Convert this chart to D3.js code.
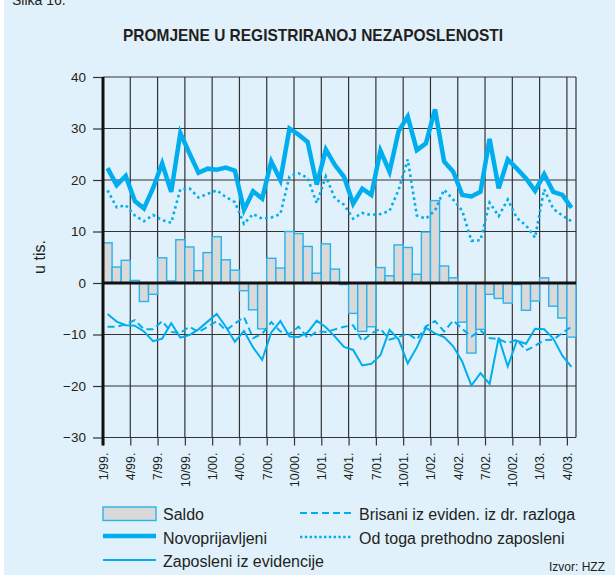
<!DOCTYPE html>
<html>
<head>
<meta charset="utf-8">
<title>Promjene u registriranoj nezaposlenosti</title>
<script src="https://cdn.jsdelivr.net/npm/d3@7"></script>
<style>
    body { margin: 0; background: #fff; }
    text { font-family: Arial, "Liberation Sans", Helvetica, sans-serif; fill: #231f20; }
</style>
</head>
<body>
<div id="chart"></div>

<script type="text/javascript">
// monthly data, 1/1999 - 4/2003, thousands
var months = [];
["99", "00", "01", "02", "03"].forEach(function (yy) {
    for (var m = 1; m <= 12; m++) months.push(m + "/" + yy + ".");
});
months = months.slice(0, 52);

var tickLabels = ["1/99.", "4/99.", "7/99.", "10/99.", "1/00.", "4/00.", "7/00.", "10/00.", "1/01.",
                  "4/01.", "7/01.", "10/01.", "1/02.", "4/02.", "7/02.", "10/02.", "1/03.", "4/03."];
var yTicks = [-30, -20, -10, 0, 10, 20, 30, 40];

var saldo = [7.8, 3.1, 4.4, 0.5, -3.6, -2.2, 4.9, 0.4, 8.4, 7.0, 2.4, 5.9,
             9.0, 4.5, 2.5, -1.5, -5.2, -8.9, 4.8, 2.9, 10.0, 9.6, 7.1, 1.9,
             7.6, 2.7, -0.3, -5.9, -9.4, -8.5, 3.0, 1.4, 7.4, 6.9, 1.7, 9.9,
             16.0, 3.3, 1.0, -7.6, -13.6, -9.0, -2.2, -3.0, -3.9, -0.3, -5.3, -3.5,
             1.0, -4.5, -6.8, -10.5];

var novoprijavljeni = [22.3, 19.0, 20.8, 15.9, 14.5, 18.4, 23.2, 17.7, 29.1, 25.2, 21.4, 22.2,
                       22.0, 22.4, 21.8, 14.2, 17.8, 16.4, 23.6, 20.0, 30.0, 28.8, 27.4, 19.1,
                       25.9, 22.9, 20.6, 15.4, 18.3, 17.1, 25.7, 21.6, 29.5, 32.3, 25.8, 27.1,
                       33.7, 23.6, 21.6, 17.1, 16.8, 17.7, 28.0, 18.4, 24.0, 22.2, 20.3, 17.9,
                       21.1, 17.7, 17.1, 14.6];

var prethodnoZaposleni = [18.0, 14.7, 15.1, 13.1, 12.0, 13.2, 12.2, 11.7, 18.2, 18.4, 16.6, 17.3,
                          18.0, 16.7, 15.7, 11.5, 13.4, 12.5, 12.7, 13.4, 20.7, 21.3, 20.4, 15.5,
                          20.7, 16.4, 15.2, 12.5, 13.6, 13.2, 13.4, 14.0, 18.1, 24.0, 13.1, 12.5,
                          14.1, 18.1, 16.2, 14.0, 8.2, 8.3, 15.6, 13.0, 16.2, 12.6, 11.2, 8.8,
                          18.2, 14.4, 13.1, 12.0];

var zaposleni = [-6.0, -7.5, -8.2, -8.3, -9.4, -11.3, -10.8, -7.8, -10.6, -10.1, -9.0, -7.5,
                 -6.0, -8.5, -11.4, -9.3, -12.5, -14.9, -9.6, -7.4, -10.4, -10.5, -9.6, -7.3,
                 -8.6, -10.4, -12.4, -13.0, -16.0, -15.7, -14.0, -9.1, -11.0, -15.6, -12.5, -8.7,
                 -9.8, -10.5, -12.3, -15.3, -19.9, -17.5, -19.6, -10.6, -16.2, -11.2, -11.8, -8.9,
                 -9.0, -10.8, -14.1, -16.3];

var brisani = [-8.5, -8.5, -8.0, -7.2, -9.0, -9.0, -7.4, -9.5, -9.7, -8.5, -9.5, -8.5,
               -7.4, -9.2, -7.9, -6.6, -10.7, -9.9, -7.6, -9.4, -9.9, -8.5, -10.7, -9.4,
               -9.5, -9.0, -8.5, -8.2, -11.3, -9.8, -8.9, -11.0, -10.5, -9.8, -11.0, -8.4,
               -7.4, -9.4, -7.3, -8.9, -10.4, -9.2, -10.7, -10.9, -11.7, -11.0, -13.1, -12.2,
               -11.1, -11.0, -9.7, -8.5];

(function () {
    var blue = "#00aeef", barFill = "#d9d9d9", barStroke = "#2ab2ea", bg = "#e0f1fb", ink = "#231f20";

    var width = 615, height = 575;
    var pLeft = 103, pRight = 576, pTop = 77, pBottom = 437.5;

    var svg = d3.select("#chart").append("svg")
        .attr("width", width)
        .attr("height", height);

    svg.append("rect").attr("x", 0).attr("y", 0).attr("width", width).attr("height", height).attr("fill", "#fff");
    svg.append("rect").attr("x", 4).attr("y", 0).attr("width", width - 4).attr("height", height).attr("fill", bg);

    svg.append("text").attr("x", 12).attr("y", 5).style("font-size", "14px").text("Slika 16.");

    svg.append("text")
        .attr("x", 313).attr("y", 41)
        .attr("text-anchor", "middle")
        .attr("textLength", 380).attr("lengthAdjust", "spacingAndGlyphs")
        .style("font-family", "'Liberation Sans Narrow', 'Arial Narrow', Arial, sans-serif")
        .style("font-weight", "bold").style("font-size", "17px")
        .text("PROMJENE U REGISTRIRANOJ NEZAPOSLENOSTI");

    var x = d3.scaleLinear().domain([0, 52]).range([pLeft, pRight]);
    var y = d3.scaleLinear().domain([-30, 40]).range([pBottom, pTop]);
    var mid = function (d, i) { return x(i + 0.5); };

    // grid
    var grid = svg.append("g").attr("stroke", "#333").attr("stroke-width", 1.2);
    grid.selectAll("line.h").data(yTicks).enter().append("line")
        .attr("x1", pLeft).attr("x2", pRight)
        .attr("y1", function (d) { return y(d); }).attr("y2", function (d) { return y(d); });
    grid.selectAll("line.v").data(d3.range(3, 52, 3).concat([52])).enter().append("line")
        .attr("x1", function (d) { return x(d); }).attr("x2", function (d) { return x(d); })
        .attr("y1", pTop).attr("y2", pBottom);

    // saldo bars
    svg.append("g").selectAll("rect").data(saldo).enter().append("rect")
        .attr("x", function (d, i) { return x(i); })
        .attr("width", function (d, i) { return x(i + 1) - x(i); })
        .attr("y", function (d) { return y(Math.max(0, d)); })
        .attr("height", function (d) { return Math.abs(y(d) - y(0)); })
        .attr("fill", barFill).attr("stroke", barStroke).attr("stroke-width", 1.4);

    svg.append("line").attr("x1", pLeft).attr("x2", pRight).attr("y1", y(0)).attr("y2", y(0))
        .attr("stroke", "#111").attr("stroke-width", 3);

    var line = d3.line().x(mid).y(function (d) { return y(d); });

    svg.append("path").datum(brisani).attr("d", line).attr("fill", "none")
        .attr("stroke", blue).attr("stroke-width", 2).attr("stroke-dasharray", "7,4");
    svg.append("path").datum(zaposleni).attr("d", line).attr("fill", "none")
        .attr("stroke", blue).attr("stroke-width", 2);
    svg.append("path").datum(prethodnoZaposleni).attr("d", line).attr("fill", "none")
        .attr("stroke", blue).attr("stroke-width", 2.6).attr("stroke-dasharray", "2.6,3.2");
    svg.append("path").datum(novoprijavljeni).attr("d", line).attr("fill", "none")
        .attr("stroke", blue).attr("stroke-width", 4.5);

    // axes
    var yAxis = svg.append("g").attr("transform", "translate(" + pLeft + ",0)")
        .call(d3.axisLeft(y).tickValues(yTicks).tickSize(10).tickPadding(7)
            .tickFormat(function (d) { return d < 0 ? "\u2212" + Math.abs(d) : d; }));
    yAxis.select(".domain").remove();
    yAxis.selectAll("line").attr("stroke", "#333").attr("stroke-width", 1.2);
    yAxis.selectAll("text").style("font-size", "13.5px").attr("fill", ink)
        .style("font-family", "Arial, 'Liberation Sans', sans-serif");

    var xAxis = svg.append("g").attr("transform", "translate(0," + pBottom + ")")
        .call(d3.axisBottom(x).tickValues(d3.range(0, 52, 3)).tickSize(8)
            .tickFormat(function (d, i) { return tickLabels[i]; }));
    xAxis.select(".domain").remove();
    xAxis.selectAll("line").attr("stroke", "#333").attr("stroke-width", 1.2);
    xAxis.selectAll("text")
        .attr("transform", "rotate(-90)")
        .attr("x", -15).attr("y", 0).attr("dy", "0.35em")
        .attr("text-anchor", "end")
        .style("font-size", "12.5px").attr("fill", ink)
        .style("font-family", "Arial, 'Liberation Sans', sans-serif");

    svg.append("line").attr("x1", pLeft).attr("x2", pLeft).attr("y1", pTop).attr("y2", pBottom + 8)
        .attr("stroke", "#111").attr("stroke-width", 3);

    svg.append("text")
        .attr("transform", "translate(45,257) rotate(-90)")
        .attr("text-anchor", "middle")
        .style("font-size", "16px")
        .text("u tis.");

    // legend
    var lg = svg.append("g").style("font-size", "16px");
    lg.append("rect").attr("x", 103).attr("y", 507).attr("width", 53).attr("height", 13.5)
        .attr("fill", barFill).attr("stroke", barStroke).attr("stroke-width", 1.4);
    lg.append("text").attr("x", 163).attr("y", 520).text("Saldo");
    lg.append("line").attr("x1", 103).attr("x2", 156).attr("y1", 536).attr("y2", 536)
        .attr("stroke", blue).attr("stroke-width", 4.5);
    lg.append("text").attr("x", 163).attr("y", 544).text("Novoprijavljeni");
    lg.append("line").attr("x1", 103).attr("x2", 156).attr("y1", 560).attr("y2", 560)
        .attr("stroke", blue).attr("stroke-width", 2);
    lg.append("text").attr("x", 163).attr("y", 567).text("Zaposleni iz evidencije");
    lg.append("line").attr("x1", 300).attr("x2", 351).attr("y1", 513).attr("y2", 513)
        .attr("stroke", blue).attr("stroke-width", 2).attr("stroke-dasharray", "7,4");
    lg.append("text").attr("x", 359).attr("y", 520).text("Brisani iz eviden. iz dr. razloga");
    lg.append("line").attr("x1", 300).attr("x2", 351).attr("y1", 537).attr("y2", 537)
        .attr("stroke", blue).attr("stroke-width", 2.4).attr("stroke-dasharray", "2.4,2.4");
    lg.append("text").attr("x", 359).attr("y", 544).text("Od toga prethodno zaposleni");

    svg.append("text").attr("x", 549).attr("y", 571).style("font-size", "12px").text("Izvor: HZZ");
})();
</script>
</body>
</html>
